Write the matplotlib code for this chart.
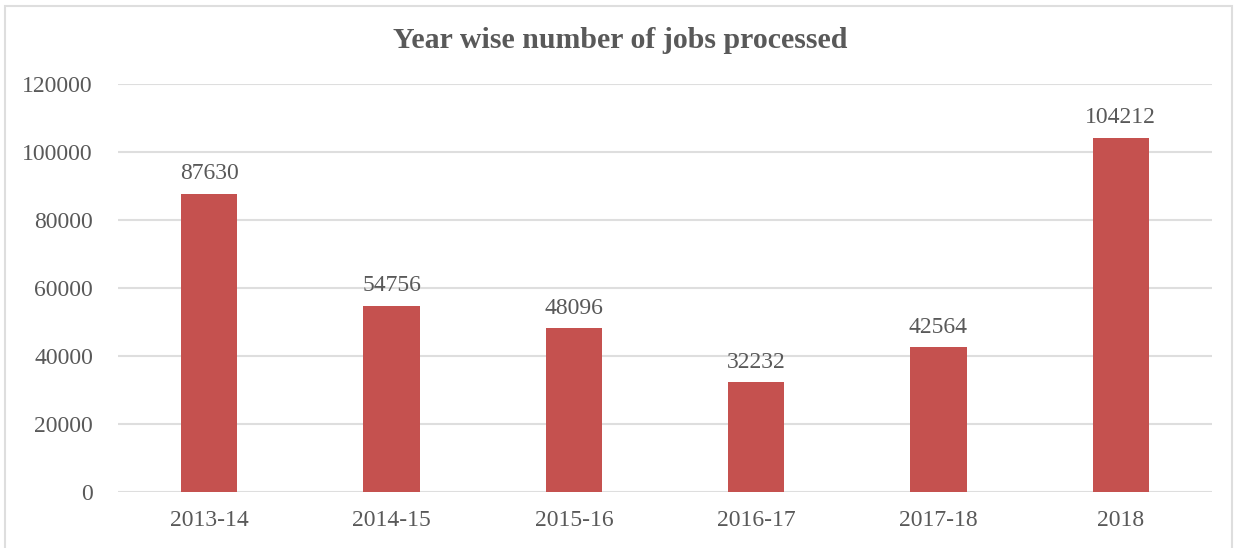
import matplotlib.pyplot as plt
from matplotlib.patches import Rectangle

years = ['2013-14', '2014-15', '2015-16', '2016-17', '2017-18', '2018']
jobs = [87630, 54756, 48096, 32232, 42564, 104212]
y_ticks = [0, 20000, 40000, 60000, 80000, 100000, 120000]

bar_color = '#C5514F'
text_color = '#595959'
grid_color = '#DEDEDE'

plt.rcParams['font.family'] = ['Liberation Serif', 'DejaVu Serif']

fig = plt.figure(figsize=(12.34, 5.48), dpi=100)
ax = fig.add_axes([118 / 1234, 1 - 492 / 548, 1094 / 1234, 408 / 548])

x = range(len(years))
bars = ax.bar(x, jobs, width=0.31, color=bar_color, zorder=3)

for b, v in zip(bars, jobs):
    ax.annotate(str(v), (b.get_x() + b.get_width() / 2, v),
                xytext=(0, 7), textcoords='offset points',
                ha='center', va='bottom', fontsize=17, color=text_color)

ax.set_xlim(-0.5, len(years) - 0.5)
ax.set_ylim(0, 120000)
ax.set_yticks(y_ticks)
ax.set_yticklabels([str(t) for t in y_ticks])
ax.set_xticks(list(x))
ax.set_xticklabels(years)
ax.tick_params(axis='both', length=0, labelsize=17, labelcolor=text_color)
ax.tick_params(axis='y', pad=18)
ax.tick_params(axis='x', pad=13)
ax.yaxis.grid(True, color=grid_color, linewidth=1.5, zorder=0)
for s in ax.spines.values():
    s.set_visible(False)

fig.text(620 / 1234, 1 - 40 / 548, 'Year wise number of jobs processed',
         ha='center', va='center', fontsize=21.5, fontweight='bold', color=text_color)

# thin frame around the whole chart area
fig.patches.append(Rectangle((5 / 1234, -0.02), 1227 / 1234, 1 - 6 / 548 + 0.02,
                             transform=fig.transFigure, fill=False,
                             edgecolor=grid_color, linewidth=1.5))

fig.savefig('out.png', dpi=100)
